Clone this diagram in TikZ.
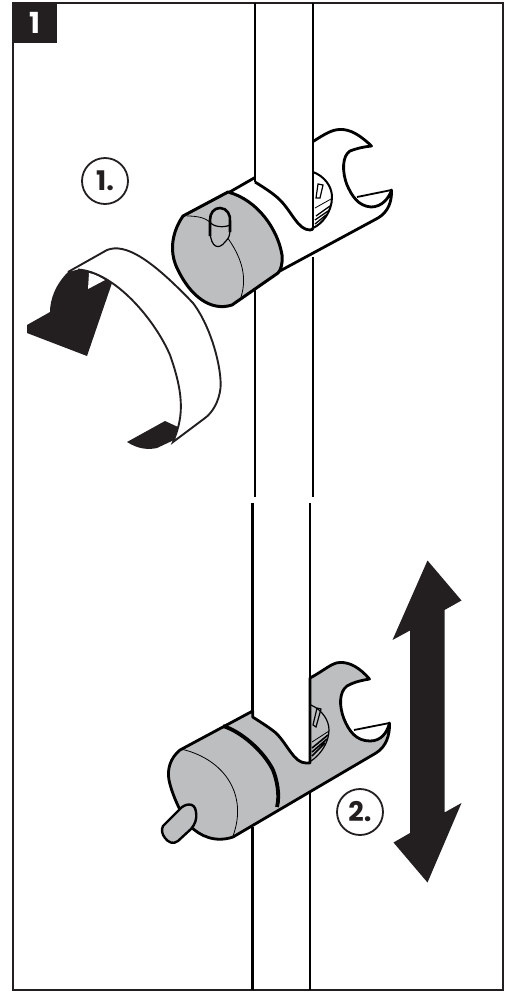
\documentclass[tikz,border=0pt]{standalone}
\usepackage{fontspec}
\setmainfont{Poppins}
\usetikzlibrary{positioning}
\definecolor{ink}{HTML}{231F20}
\definecolor{metal}{HTML}{BCBEC0}
\begin{document}
\begin{tikzpicture}[x=1pt,y=-1pt,
  railline/.style={line width=2.8pt,black},
  pencil/.style={line width=2.8pt,black,line join=round},
  fine/.style={line width=.8pt,black},
  label/.style={draw=ink,line width=1.8pt,circle,minimum size=46pt,inner sep=0pt,text=ink,font=\bfseries\fontsize{27}{27}\selectfont},
  solid/.style={fill=ink,draw=none}]
\useasboundingbox (0,0) rectangle (510,994);
\fill[white] (0,0) rectangle (510,994);
% frame
\draw[line width=2.4pt,ink] (13,3) -- (503,3) -- (503,990) -- (13,990) -- cycle;
\node[fill=ink,text=white,minimum width=45pt,minimum height=41pt,inner sep=0pt,font=\bfseries\fontsize{29}{29}\selectfont] (tab) at (34.5,22.5) {1};
% rails
\draw[railline] (255,3) -- (255,182) (313,3) -- (313,228) (313,257) -- (313,497) (255,290) -- (255,497);
\draw[railline] (252.7,503) -- (252.7,717) (310,503) -- (310,763) (310,790) -- (310,990) (252.7,827) -- (252.7,990);
% upper holder
\draw[pencil] (228,193) -- (255,177.5) (255,182) .. controls (268,190) and (275,195) .. (280,200) .. controls (292,212) and (298,230) .. (310,230) .. controls (312,230) and (313,229) .. (313,228);
\draw[pencil,line width=2pt] (313,172) .. controls (324,176) and (332,186) .. (332,197) .. controls (332,212) and (322,224) .. (313,228);
% upper clip
\draw[pencil] (313,141.5) .. controls (325,134) and (332,129.5) .. (340,129.5)
  .. controls (350,129) and (360,135) .. (371.5,146)
  .. controls (362,147) and (355,149) .. (350,151)
  .. controls (342,156) and (342,172) .. (347,185)
  .. controls (352,196) and (358,206) .. (371,207)
  .. controls (382,207) and (389,198) .. (391.5,190)
  .. controls (392,202) and (388,212) .. (378,218)
  -- (278,272);
\draw[pencil,line width=1.8pt] (357,197) -- (391.5,190);
\draw[fine,line width=1.2pt] (316,198) -- (318,184) -- (323,185) -- (320,198) -- cycle;
\draw[fine] (315,208) -- (331,199);
\draw[fine,line width=1.3pt] (316,216) -- (330,206) (315,220) -- (328,211) (315,224) -- (326,215);
% upper cap
\draw[pencil,line width=3pt,fill=metal] (183,216) -- (228,192)
  .. controls (258,200) and (278,230) .. (282,255) .. controls (283,262) and (281,270) .. (278,273)
  -- (232,305) .. controls (210,312) and (190,295) .. (178,270)
  .. controls (170,255) and (170,235) .. (183,216) -- cycle;
\draw[fine] (187,216) .. controls (198,216) and (205,218) .. (210,222);
\draw[fine] (227,237) .. controls (240,255) and (248,275) .. (241,297);
\draw[fine,line width=1.2pt,fill=metal] (210,232) .. controls (211,248) and (219,250) .. (225,242) .. controls (229,238) and (230,236) .. (230,228);
\draw[pencil,line width=2.6pt] (210,236) -- (210,220) .. controls (210,213) and (214,208) .. (220,208) .. controls (227,208) and (231,215) .. (230,222) -- (230,232);
\draw[fine,line width=1.2pt] (210,222) .. controls (213,227) and (224,228) .. (230,225);
% curved arrow
\path[solid] (68,272) .. controls (55,285) and (50,300) .. (50,312) -- (27,325) -- (27,333) -- (87,356) -- (112,283) .. controls (102,275) and (90,270) .. (78,269.5) -- cycle;
\path[fill=white] (89,273) -- (88,289) -- (105,280) .. controls (100,277) and (95,274) .. (89,273) -- cycle;
\draw[line width=1.9pt,ink] (68,272) -- (107,250) .. controls (125,243) and (150,258) .. (193,303)
  .. controls (212,328) and (222,370) .. (220.5,388) .. controls (219,402) and (212,413) .. (205,418) -- (173,442)
  .. controls (182,420) and (186,400) .. (170,355) .. controls (155,320) and (115,272) .. (78,269.5);
\path[solid] (127,442) -- (165,421) -- (178,427) -- (174,440) -- (157,448) .. controls (148,450) and (138,449) .. (127,442) -- cycle;
% lower holder
\draw[pencil,fill=metal] (180,750) -- (252.7,711) -- (252.7,717)
  .. controls (262,723) and (270,728) .. (276,733)
  .. controls (288,745) and (294,763) .. (306,763) -- (310,763) -- (310,678)
  .. controls (325,670) and (332,662.5) .. (340,662.5)
  .. controls (350,662) and (360,668) .. (369.5,679)
  .. controls (358,681) and (352,683) .. (347,686)
  .. controls (339,692) and (339,706) .. (344,719)
  .. controls (349,731) and (356,741) .. (370,741)
  .. controls (381,741) and (387,733) .. (389.5,723)
  .. controls (390,735) and (386,747) .. (376,753)
  -- (233,837) .. controls (215,843) and (200,836) .. (190,826)
  .. controls (182,816) and (172,795) .. (169,780)
  .. controls (167,770) and (170,758) .. (180,750) -- cycle;
\draw[pencil,line width=1.8pt] (354,730) -- (389.5,723);
\draw[pencil,line width=1.2pt] (311,705) .. controls (322,710) and (329,720) .. (329,730) .. controls (329,743) and (320,755) .. (311,761);
\draw[fine,line width=1.2pt] (313,725) -- (317,708) -- (321,709) -- (316,727) -- cycle;
\draw[fine] (312,742) -- (329,731);
\draw[fine,line width=1.6pt] (312,752) -- (327,739) (312,756) -- (325,743) (312,748) -- (328,735);
\draw[pencil,line width=3.8pt] (223,726) .. controls (240,731) and (263,750) .. (273,770) .. controls (277,780) and (280,795) .. (277,807);
\draw[fine] (183,749.5) .. controls (225,760) and (248,795) .. (233,836);
\draw[pencil,line width=2.4pt,fill=metal] (163,826) -- (180,809) .. controls (184,804) and (195,801) .. (196,812) .. controls (197,820) and (195,824) .. (191,829) -- (178,841) .. controls (173,845) and (168,842) .. (165,838) .. controls (162,834) and (161,830) .. (163,826) -- cycle;
% big arrow
\path[solid] (427.5,560.5) -- (461.5,600.5) -- (444.5,610) -- (444.5,812.5) -- (461.5,803) -- (427.5,882.5) -- (393.5,842.5) -- (410,833) -- (410,630.5) -- (392.5,640) -- cycle;
% step labels
\node[label] (one) at (105,181) {1.};
\node[label] (two) at (360,812) {2.};
\end{tikzpicture}
\end{document}
